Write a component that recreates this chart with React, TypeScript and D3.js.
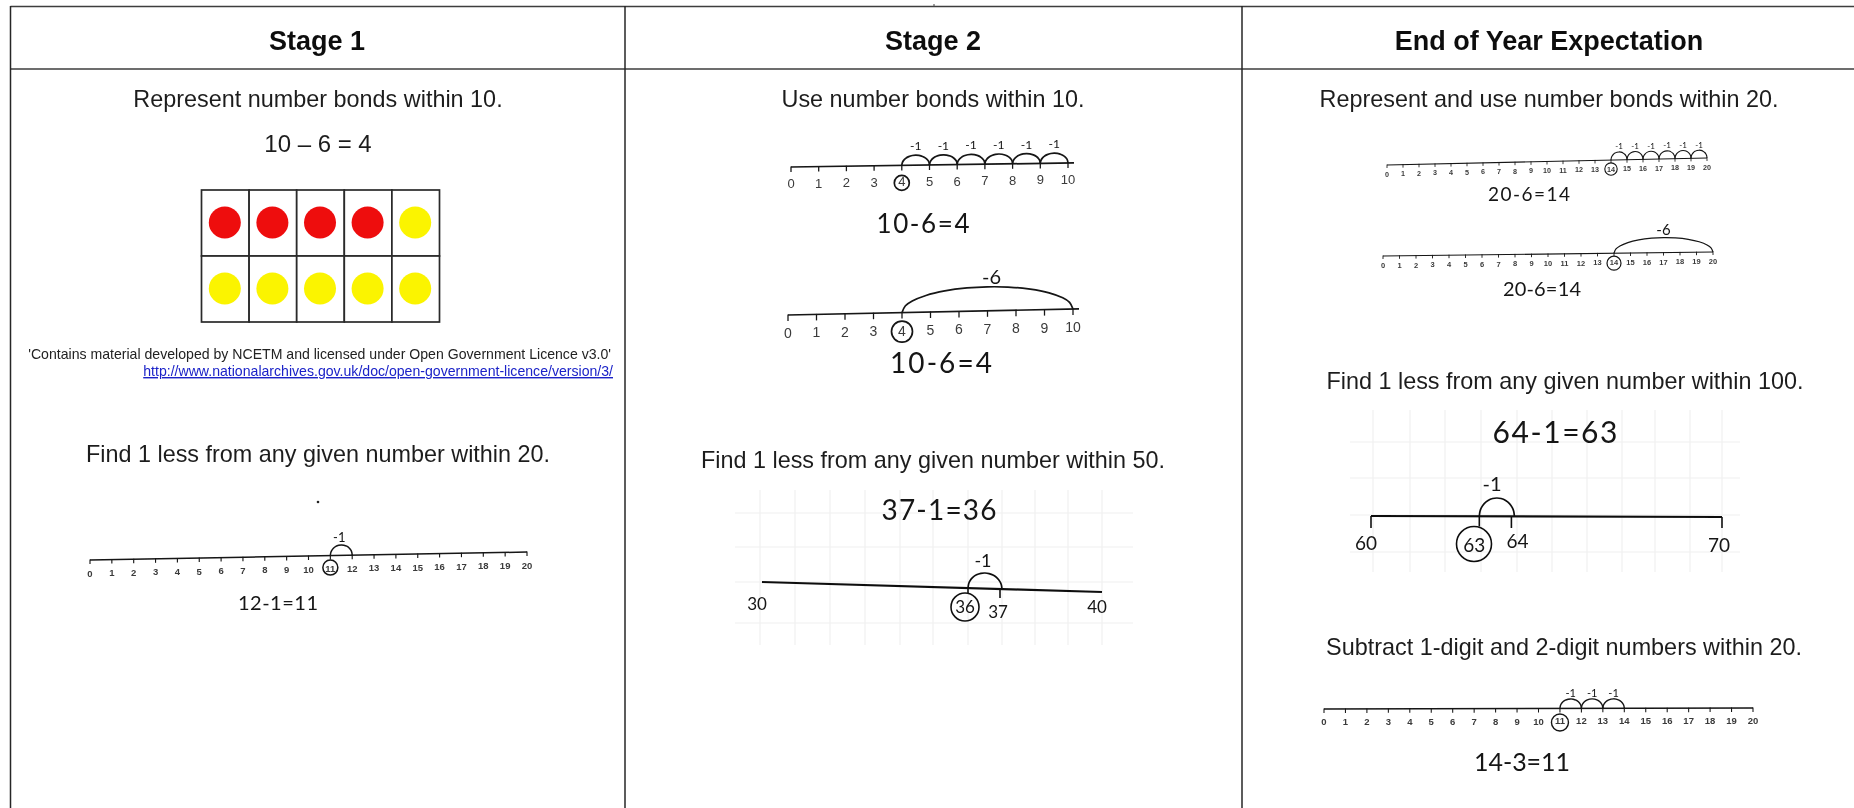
import React from "react";
import * as d3 from "d3";

const headers = ["Stage 1", "Stage 2", "End of Year Expectation"];
const promptsStage1 = ["Represent number bonds within 10.", "Find 1 less from any given number within 20."];
const promptsStage2 = ["Use number bonds within 10.", "Find 1 less from any given number within 50."];
const promptsEnd = [
  "Represent and use number bonds within 20.",
  "Find 1 less from any given number within 100.",
  "Subtract 1-digit and 2-digit numbers within 20.",
];
const equationFrame = "10 – 6 = 4";
const licence = "'Contains material developed by NCETM and licensed under Open Government Licence v3.0'";
const licenceUrl = "http://www.nationalarchives.gov.uk/doc/open-government-licence/version/3/";

const ticksTo10 = [0, 1, 2, 3, 4, 5, 6, 7, 8, 9, 10];
const ticksTo20 = [0, 1, 2, 3, 4, 5, 6, 7, 8, 9, 10, 11, 12, 13, 14, 15, 16, 17, 18, 19, 20];
const frameRed = [1, 1, 1, 1, 0];
const frameYellow = [0, 0, 0, 0, 0];
const jumps10to4 = [[4, 5], [5, 6], [6, 7], [7, 8], [8, 9], [9, 10]];
const jumps20to14 = [[14, 15], [15, 16], [16, 17], [17, 18], [18, 19], [19, 20]];
const jump12to11 = [[11, 12]];
const jumps14to11 = [[11, 12], [12, 13], [13, 14]];
const jump10minus6 = [[4, 10]];
const jump20minus6 = [[14, 20]];
const jump37to36 = [[36, 37]];
const jump64to63 = [[63, 64]];

type Printed = {
  ticks: number[]; x: [number, number]; y: [number, number]; extend: number; dy: number; font: number; tick: number;
  jumps: number[][]; jumpH: number; jumpLabel: string; labelFont: number; labelUp: number; labelDx: number;
  circled: number; r: number; circleDy: number; sw: number;
  eq: string; eqX: number; eqY: number; eqFont: number; eqW: number;
};

const printedLines: Printed[] = [
  { ticks: ticksTo20, x: [90, 527], y: [560, 552], extend: 0, dy: 16.5, font: 9.5, tick: 4, jumps: jump12to11, jumpH: 10.5, jumpLabel: "-1", labelFont: 13, labelUp: 3, labelDx: -2, circled: 11, r: 7.5, circleDy: 12, sw: 1.5, eq: "12-1=11", eqX: 278, eqY: 610, eqFont: 20, eqW: 80 },
  { ticks: ticksTo10, x: [791, 1068], y: [167, 163], extend: 6, dy: 21, font: 13, tick: 5, jumps: jumps10to4, jumpH: 10, jumpLabel: "-1", labelFont: 12, labelUp: 5, labelDx: 0, circled: 4, r: 7.5, circleDy: 17.5, sw: 1.7, eq: "10-6=4", eqX: 923, eqY: 233, eqFont: 26, eqW: 93 },
  { ticks: ticksTo10, x: [788, 1073], y: [315, 309], extend: 6, dy: 23, font: 14, tick: 6, jumps: jump10minus6, jumpH: 24, jumpLabel: "-6", labelFont: 20, labelUp: 3, labelDx: 4, circled: 4, r: 10.5, circleDy: 19, sw: 1.7, eq: "10-6=4", eqX: 941, eqY: 373, eqFont: 28, eqW: 102 },
  { ticks: ticksTo20, x: [1387, 1707], y: [165, 158], extend: 0, dy: 11.5, font: 7.2, tick: 3, jumps: jumps20to14, jumpH: 8, jumpLabel: "-1", labelFont: 8, labelUp: 2.5, labelDx: 0, circled: 14, r: 6.2, circleDy: 9, sw: 1.1, eq: "20-6=14", eqX: 1529, eqY: 201, eqFont: 19, eqW: 82 },
  { ticks: ticksTo20, x: [1383, 1713], y: [256, 252], extend: 0, dy: 12, font: 7.5, tick: 3, jumps: jump20minus6, jumpH: 15, jumpLabel: "-6", labelFont: 15, labelUp: 3, labelDx: 0, circled: 14, r: 7, circleDy: 10, sw: 1.2, eq: "20-6=14", eqX: 1542, eqY: 296, eqFont: 20, eqW: 78 },
  { ticks: ticksTo20, x: [1324, 1753], y: [709, 708], extend: 0, dy: 16, font: 9.5, tick: 4, jumps: jumps14to11, jumpH: 9.5, jumpLabel: "-1", labelFont: 11, labelUp: 2, labelDx: 0, circled: 11, r: 8.5, circleDy: 14, sw: 1.4, eq: "14-3=11", eqX: 1522, eqY: 771, eqFont: 25, eqW: 96 },
];

type Paper = {
  domain: [number, number]; x: [number, number]; y: [number, number]; labels: number[]; labelDx: number[]; labelY: number[];
  ticksDown: number[]; tickEnd: number; jumps: number[][]; jumpDx: number; top: number; circled: number; cx: number; cy: number; r: number;
  minus: [number, number]; minusFont: number; labelFont: number;
  gridX: number[]; gridY: number[]; gridTop: number; gridBottom: number; gridLeft: number; gridRight: number;
  eq: string; eqX: number; eqY: number; eqFont: number; eqW: number;
};

const papers: Paper[] = [
  {
    domain: [30, 40], x: [762, 1102], y: [582, 592], labels: [30, 36, 37, 40], labelDx: [-5, -1, -2, -5], labelY: [610, 613, 618, 613],
    ticksDown: [37], tickEnd: 598, jumps: jump37to36, jumpDx: 2, top: 573, circled: 36, cx: 965, cy: 607, r: 14,
    minus: [983, 567], minusFont: 18, labelFont: 17,
    gridX: [760, 795, 830, 865, 900, 933, 968, 1002, 1035, 1068, 1102], gridY: [513, 547, 582, 623], gridTop: 490, gridBottom: 645, gridLeft: 735, gridRight: 1133,
    eq: "37-1=36", eqX: 939, eqY: 520, eqFont: 28, eqW: 115,
  },
  {
    domain: [60, 70], x: [1371, 1722], y: [516, 517], labels: [60, 63, 64, 70], labelDx: [-5, -2, 6, -3], labelY: [550, 552, 548, 552],
    ticksDown: [60, 64, 70], tickEnd: 528, jumps: jump64to63, jumpDx: 3, top: 498, circled: 63, cx: 1474, cy: 544, r: 17.5,
    minus: [1492, 491], minusFont: 20, labelFont: 19,
    gridX: [1373, 1410, 1445, 1481, 1517, 1552, 1587, 1622, 1655, 1690, 1722], gridY: [442, 478, 515, 552], gridTop: 410, gridBottom: 572, gridLeft: 1350, gridRight: 1740,
    eq: "64-1=63", eqX: 1555, eqY: 443, eqFont: 30, eqW: 125,
  },
];

const W = 1854;
const H = 808;
const colX = [10.5, 625, 1242];
const INK = "#141414";
const SANS = "'Liberation Sans', Arial, sans-serif";
const HAND = "Lato, 'Open Sans', sans-serif";

const arcLine = d3.line<[number, number]>().curve(d3.curveCatmullRom);
const ELLIPSE_T = [0, 0.02, 0.06, 0.14, 0.25, 0.38, 0.5, 0.62, 0.75, 0.86, 0.94, 0.98, 1];

function jumpPath(xa: number, xb: number, ya: number, yb: number, h: number) {
  const pts = ELLIPSE_T.map((t): [number, number] => [
    xa + (xb - xa) * t,
    ya + (yb - ya) * t - h * Math.sqrt(Math.max(0, 1 - (2 * t - 1) * (2 * t - 1))),
  ]);
  return arcLine(pts) || "";
}

function Hand(p: { x: number; y: number; size: number; w?: number; children: string }) {
  return (
    <text x={p.x} y={p.y} textAnchor="middle" fontFamily={HAND} fontWeight={400} fontSize={p.size} fill={INK}
      {...(p.w ? { textLength: p.w, lengthAdjust: "spacing" } : {})}>
      {p.children}
    </text>
  );
}

function PrintedLine({ l }: { l: Printed }) {
  const last = l.ticks[l.ticks.length - 1];
  const x = d3.scaleLinear().domain([0, last]).range(l.x);
  const y = d3.scaleLinear().domain([0, last]).range(l.y);
  const ext = l.extend / (x(1) - x(0));
  return (
    <g>
      <line x1={x(0)} y1={y(0)} x2={x(last + ext)} y2={y(last + ext)} stroke={INK} strokeWidth={l.sw} />
      {l.ticks.map((t) => (
        <g key={t}>
          <line x1={x(t)} x2={x(t)} y1={y(t) - 0.5} y2={y(t) + l.tick} stroke={INK} strokeWidth={l.sw * 0.75} />
          <text x={x(t)} y={y(t) + l.dy} textAnchor="middle" fontFamily={SANS} fontWeight={l.font < 10 ? 700 : 400} fontSize={l.font} fill="#3a3a3a">{t}</text>
        </g>
      ))}
      {l.jumps.map(([a, b]) => (
        <g key={a}>
          <path d={jumpPath(x(a), x(b), y(a), y(b), l.jumpH)} fill="none" stroke={INK} strokeWidth={l.sw} />
          <Hand x={(x(a) + x(b)) / 2 + l.labelDx} y={(y(a) + y(b)) / 2 - l.jumpH - l.labelUp} size={l.labelFont}>{l.jumpLabel}</Hand>
        </g>
      ))}
      <circle cx={x(l.circled)} cy={y(l.circled) + l.circleDy} r={l.r} fill="none" stroke={INK} strokeWidth={l.sw} />
      <Hand x={l.eqX} y={l.eqY} size={l.eqFont} w={l.eqW}>{l.eq}</Hand>
    </g>
  );
}

function PaperLine({ p }: { p: Paper }) {
  const x = d3.scaleLinear().domain(p.domain).range(p.x);
  const y = d3.scaleLinear().domain(p.domain).range(p.y);
  return (
    <g>
      {p.gridX.map((g) => <line key={g} x1={g} x2={g} y1={p.gridTop} y2={p.gridBottom} stroke="#f0f0f0" strokeWidth={1.2} />)}
      {p.gridY.map((g) => <line key={g} x1={p.gridLeft} x2={p.gridRight} y1={g} y2={g} stroke="#f0f0f0" strokeWidth={1.2} />)}
      <line x1={x(p.domain[0])} y1={y(p.domain[0])} x2={x(p.domain[1])} y2={y(p.domain[1])} stroke="#111" strokeWidth={2.2} />
      {p.ticksDown.map((t) => <line key={t} x1={x(t)} x2={x(t)} y1={y(t)} y2={p.tickEnd} stroke="#111" strokeWidth={1.6} />)}
      {p.jumps.map(([a, b]) => {
        const xa = x(a) + p.jumpDx;
        const xb = x(b) + p.jumpDx;
        return (
          <g key={a}>
            <path d={jumpPath(xa, xb, y(a), y(b), (y(a) + y(b)) / 2 - p.top)} fill="none" stroke="#111" strokeWidth={1.7} />
            <line x1={xa} x2={xa} y1={y(a)} y2={p.cy - p.r} stroke="#111" strokeWidth={1.6} />
          </g>
        );
      })}
      <circle cx={p.cx} cy={p.cy} r={p.r} fill="none" stroke="#111" strokeWidth={1.6} />
      {p.labels.map((v, i) => (
        <Hand key={v} x={x(v) + p.labelDx[i]} y={p.labelY[i]} size={p.labelFont}>{String(v)}</Hand>
      ))}
      <Hand x={p.minus[0]} y={p.minus[1]} size={p.minusFont}>-1</Hand>
      <Hand x={p.eqX} y={p.eqY} size={p.eqFont} w={p.eqW}>{p.eq}</Hand>
    </g>
  );
}

function TenFrame() {
  const columns = d3.range(frameRed.length);
  const x = d3.scaleBand<number>().domain(columns).range([201.5, 439.5]);
  const y = d3.scaleBand<number>().domain([0, 1]).range([190, 322]);
  const rows = [frameRed, frameYellow];
  return (
    <g>
      {rows.map((row, r) => row.map((v, c) => (
        <g key={`${r}-${c}`}>
          <rect x={x(c)} y={y(r)} width={x.bandwidth()} height={y.bandwidth()} fill="#fff" stroke="#2a2a2a" strokeWidth={1.7} />
          <circle cx={(x(c) as number) + x.bandwidth() / 2 - 0.5} cy={(y(r) as number) + y.bandwidth() / 2 - 0.5} r={16} fill={v ? "#ee0a0f" : "#fbf400"} />
        </g>
      )))}
    </g>
  );
}

export default function App() {
  const body = { fontFamily: SANS, fontSize: 23.4, fill: "#1f1f1f", textAnchor: "middle" as const };
  return (
    <svg width={W} height={H} viewBox={`0 0 ${W} ${H}`} style={{ position: "absolute", left: 0, top: 0, display: "block", background: "#fff" }}>
      <defs>
        <filter id="soft" x="0" y="0" width="100%" height="100%" filterUnits="objectBoundingBox">
          <feGaussianBlur stdDeviation="0.4" />
        </filter>
      </defs>
      <rect width={W} height={H} fill="#fff" />
      <g filter="url(#soft)">
        <rect width={W} height={H} fill="#fff" />
        <line x1={colX[0]} x2={W} y1={6.5} y2={6.5} stroke="#3c3c3c" strokeWidth={1.4} />
        <line x1={colX[0]} x2={W} y1={69} y2={69} stroke="#3c3c3c" strokeWidth={1.4} />
        {colX.map((c) => <line key={c} x1={c} x2={c} y1={6} y2={H} stroke="#262626" strokeWidth={1.5} />)}
        <line x1={934} x2={934} y1={4} y2={7} stroke="#444" strokeWidth={1} />

        {headers.map((h, i) => (
          <text key={h} x={[317, 933, 1549][i]} y={50} textAnchor="middle" fontFamily={SANS} fontWeight={700} fontSize={27} fill="#111">{h}</text>
        ))}

        <text {...body} x={318} y={107}>{promptsStage1[0]}</text>
        <text {...body} x={318} y={152} fontSize={24}>{equationFrame}</text>
        <TenFrame />
        <text x={611} y={359} textAnchor="end" fontFamily={SANS} fontSize={14.1} fill="#222">{licence}</text>
        <text x={613} y={376} textAnchor="end" fontFamily={SANS} fontSize={14.1} fill="#1a22c8" textDecoration="underline">{licenceUrl}</text>
        <text {...body} x={318} y={462}>{promptsStage1[1]}</text>
        <circle cx={318} cy={502} r={1.3} fill="#222" />

        <text {...body} x={933} y={107}>{promptsStage2[0]}</text>
        <text {...body} x={933} y={468}>{promptsStage2[1]}</text>

        <text {...body} x={1549} y={107}>{promptsEnd[0]}</text>
        <text {...body} x={1565} y={389}>{promptsEnd[1]}</text>
        <text {...body} x={1564} y={655}>{promptsEnd[2]}</text>

        {papers.map((p) => <PaperLine key={p.eq} p={p} />)}
        {printedLines.map((l, i) => <PrintedLine key={i} l={l} />)}
      </g>
    </svg>
  );
}
